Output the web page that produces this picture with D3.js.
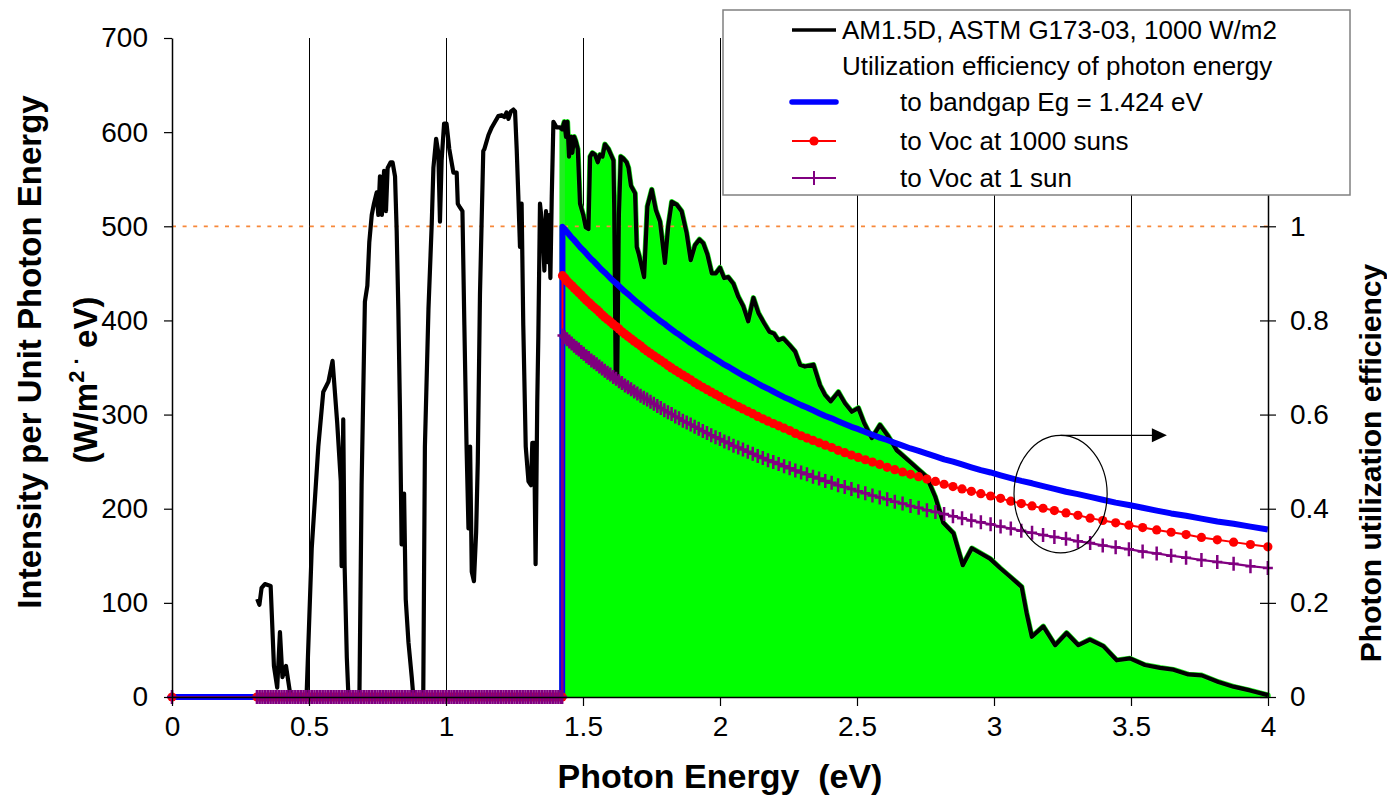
<!DOCTYPE html>
<html>
<head>
<meta charset="utf-8">
<script src="https://cdn.jsdelivr.net/npm/d3@7"></script>
<style>
  html, body { margin: 0; padding: 0; background: #ffffff; }
  svg { display: block; font-family: "Liberation Sans", Arial, Helvetica, sans-serif; }
</style>
</head>
<body>
<svg id="chart" width="1387" height="803"></svg>
<script>
// ---- AM1.5D direct spectrum, per unit photon energy ----
const spectrumEnergy = [
  0.311,0.319,0.327,0.339,0.360,0.372,0.384,0.394,0.403,0.416,0.433,0.491,0.510,0.534,0.552,0.571,0.586,0.603,0.616,0.619,
  0.625,0.630,0.638,0.644,0.684,0.692,0.704,0.713,0.720,0.729,0.737,0.747,0.753,0.759,0.766,0.774,0.781,0.787,0.798,0.805,
  0.814,0.820,0.826,0.832,0.838,0.847,0.853,0.863,0.875,0.881,0.917,0.923,0.936,0.948,0.954,0.964,0.972,0.978,0.984,0.993,
  1.002,1.012,1.027,1.039,1.043,1.051,1.060,1.067,1.075,1.082,1.088,1.094,1.102,1.110,1.116,1.124,1.136,1.140,1.155,1.167,
  1.179,1.191,1.203,1.213,1.221,1.228,1.237,1.246,1.252,1.258,1.264,1.270,1.276,1.282,1.291,1.301,1.310,1.315,1.322,1.327,
  1.333,1.337,1.343,1.352,1.359,1.365,1.371,1.376,1.381,1.386,1.392,1.404,1.416,1.424,1.432,1.438,1.443,1.449,1.456,1.461,
  1.468,1.473,1.481,1.489,1.495,1.501,1.510,1.520,1.526,1.534,1.544,1.554,1.562,1.571,1.580,1.593,1.602,1.611,1.614,1.619,
  1.625,1.631,1.638,1.647,1.659,1.666,1.675,1.690,1.696,1.704,1.716,1.723,1.735,1.751,1.766,1.781,1.799,1.811,1.824,1.842,
  1.860,1.878,1.893,1.909,1.925,1.939,1.954,1.970,1.985,2.000,2.015,2.030,2.049,2.067,2.085,2.103,2.122,2.140,2.161,2.180,
  2.197,2.213,2.231,2.253,2.274,2.292,2.310,2.341,2.365,2.383,2.404,2.432,2.456,2.481,2.505,2.526,2.554,2.584,2.614,2.645,
  2.657,2.700,2.754,2.785,2.815,2.852,2.886,2.919,2.949,2.985,3.022,3.058,3.101,3.119,3.138,3.180,3.223,3.265,3.308,3.350,
  3.399,3.448,3.496,3.551,3.606,3.655,3.709,3.758,3.819,3.874,3.934,4.000
];
const spectrumIntensity = [
  104,98,116,120,118,33,10,69,21,33,0,0,158,266,324,335,357,291,229,139,
  295,139,42,0,0,225,420,437,483,512,524,536,512,553,512,559,516,562,568,568,
  553,495,412,304,162,216,104,58,21,0,0,266,412,503,562,593,578,505,570,609,
  609,582,557,557,524,520,516,395,266,179,266,133,123,175,250,428,580,582,597,605,
  611,617,618,616,621,614,622,624,622,582,532,478,524,395,266,229,225,270,270,141,
  312,383,524,499,453,516,462,512,445,532,611,605,605,603,611,595,611,574,595,578,
  595,591,582,524,518,512,499,497,574,578,576,568,576,574,587,582,576,570,520,345,
  341,512,574,572,568,562,543,535,478,470,455,446,521,539,517,505,461,500,526,523,
  516,493,464,480,486,482,470,450,450,456,445,446,439,425,415,399,424,408,397,388,
  386,379,381,374,367,353,351,353,331,321,314,324,312,303,307,291,275,289,277,262,
  259,248,234,213,185,174,140,158,153,147,137,128,117,89,64,75,55,68,55,61,
  54,39,41,34,31,29,24,23,16,11,7,2
];

// ---- Bandgap of the absorber (eV) ----
const bandgapEnergy = 1.424;

// ---- Photon energies below the gap (utilization efficiency is zero there) ----
const belowGapEnergy = [
  0,0.31,0.32,0.33,0.34,0.35,0.36,0.37,0.38,0.39,0.4,0.41,0.42,0.43,0.44,0.45,0.46,0.47,0.48,0.49,0.5,
  0.51,0.52,0.53,0.54,0.55,0.56,0.57,0.58,0.59,0.6,0.61,0.62,0.63,0.64,0.65,0.66,0.67,0.68,0.69,0.7,
  0.71,0.72,0.73,0.74,0.75,0.76,0.77,0.78,0.79,0.8,0.81,0.82,0.83,0.84,0.85,0.86,0.87,0.88,0.89,0.9,
  0.91,0.92,0.93,0.94,0.95,0.96,0.97,0.98,0.99,1,1.01,1.02,1.03,1.04,1.05,1.06,1.07,1.08,1.09,1.1,
  1.11,1.12,1.13,1.14,1.15,1.16,1.17,1.18,1.19,1.2,1.21,1.22,1.23,1.24,1.25,1.26,1.27,1.28,1.29,1.3,
  1.31,1.32,1.33,1.34,1.35,1.36,1.37,1.38,1.39,1.4,1.41,1.42,1.424
];

// ---- Sample wavelengths above the gap (nm) and the utilization efficiencies there ----
const sampleWavelengthNm = [
  310,315,320,325,330,335,340,345,350,355,360,365,370,375,380,385,390,395,400,405,
  410,415,420,425,430,435,440,445,450,455,460,465,470,475,480,485,490,495,500,505,
  510,515,520,525,530,535,540,545,550,555,560,565,570,575,580,585,590,595,600,605,
  610,615,620,625,630,635,640,645,650,655,660,665,670,675,680,685,690,695,700,705,
  710,715,720,725,730,735,740,745,750,755,760,765,770,775,780,785,790,795,800,805,
  810,815,820,825,830,835,840,845,850,855,860,865,870
];
const effToBandgap = [
  0.356,0.362,0.368,0.373,0.379,0.385,0.390,0.396,0.402,0.408,0.413,0.419,0.425,0.431,0.436,0.442,0.448,0.454,0.459,0.465,
  0.471,0.477,0.482,0.488,0.494,0.500,0.505,0.511,0.517,0.523,0.528,0.534,0.540,0.546,0.551,0.557,0.563,0.569,0.574,0.580,
  0.586,0.592,0.597,0.603,0.609,0.615,0.620,0.626,0.632,0.637,0.643,0.649,0.655,0.660,0.666,0.672,0.678,0.683,0.689,0.695,
  0.701,0.706,0.712,0.718,0.724,0.729,0.735,0.741,0.747,0.752,0.758,0.764,0.770,0.775,0.781,0.787,0.793,0.798,0.804,0.810,
  0.815,0.821,0.827,0.833,0.838,0.844,0.850,0.856,0.861,0.867,0.873,0.879,0.884,0.890,0.896,0.902,0.907,0.913,0.919,0.925,
  0.930,0.936,0.942,0.948,0.953,0.959,0.965,0.971,0.976,0.982,0.988,0.994,0.999
];
const effToVoc1000 = [
  0.319,0.324,0.329,0.334,0.339,0.345,0.350,0.355,0.360,0.365,0.370,0.375,0.380,0.386,0.391,0.396,0.401,0.406,0.411,0.416,
  0.422,0.427,0.432,0.437,0.442,0.447,0.452,0.458,0.463,0.468,0.473,0.478,0.483,0.488,0.494,0.499,0.504,0.509,0.514,0.519,
  0.524,0.530,0.535,0.540,0.545,0.550,0.555,0.560,0.566,0.571,0.576,0.581,0.586,0.591,0.596,0.602,0.607,0.612,0.617,0.622,
  0.627,0.632,0.638,0.643,0.648,0.653,0.658,0.663,0.668,0.674,0.679,0.684,0.689,0.694,0.699,0.704,0.710,0.715,0.720,0.725,
  0.730,0.735,0.740,0.746,0.751,0.756,0.761,0.766,0.771,0.776,0.782,0.787,0.792,0.797,0.802,0.807,0.812,0.818,0.823,0.828,
  0.833,0.838,0.843,0.848,0.854,0.859,0.864,0.869,0.874,0.879,0.884,0.890,0.895
];
const effToVoc1 = [
  0.274,0.278,0.283,0.287,0.291,0.296,0.300,0.305,0.309,0.314,0.318,0.322,0.327,0.331,0.336,0.340,0.344,0.349,0.353,0.358,
  0.362,0.367,0.371,0.375,0.380,0.384,0.389,0.393,0.397,0.402,0.406,0.411,0.415,0.420,0.424,0.428,0.433,0.437,0.442,0.446,
  0.450,0.455,0.459,0.464,0.468,0.473,0.477,0.481,0.486,0.490,0.495,0.499,0.503,0.508,0.512,0.517,0.521,0.526,0.530,0.534,
  0.539,0.543,0.548,0.552,0.556,0.561,0.565,0.570,0.574,0.579,0.583,0.587,0.592,0.596,0.601,0.605,0.609,0.614,0.618,0.623,
  0.627,0.632,0.636,0.640,0.645,0.649,0.654,0.658,0.662,0.667,0.671,0.676,0.680,0.685,0.689,0.693,0.698,0.702,0.707,0.711,
  0.715,0.720,0.724,0.729,0.733,0.738,0.742,0.746,0.751,0.755,0.760,0.764,0.768
];

// ---- Axis ticks ----
const xTicks = [0, 0.5, 1, 1.5, 2, 2.5, 3, 3.5, 4];
const leftTicks = [0, 100, 200, 300, 400, 500, 600, 700];
const rightTicks = [0, 0.2, 0.4, 0.6, 0.8, 1];
const referenceLevel = 1; // full utilization (dashed line)

// ---- Legend text ----
const legendLabels = [
  "AM1.5D, ASTM G173-03, 1000 W/m2",
  "Utilization efficiency of photon energy",
  "to bandgap Eg = 1.424 eV",
  "to Voc at 1000 suns",
  "to Voc at 1 sun"
];

// ---- Layout ----
const plot = { left: 172, right: 1268, top: 38, bottom: 697 };
const hcToEv = 1239.84; // nm·eV

const svg = d3.select("#chart");

const x = d3.scaleLinear().domain([0, 4]).range([plot.left, plot.right]);
const yL = d3.scaleLinear().domain([0, 700]).range([plot.bottom, plot.top]);
const yR = d3.scaleLinear().domain([0, 1.4]).range([plot.bottom, plot.top]);

// spectrum records
const spectrum = spectrumEnergy.map((e, i) => ({ e, v: spectrumIntensity[i] }));
const aboveGapSpectrum = [{ e: bandgapEnergy, v: 0 }].concat(spectrum.filter(d => d.e >= bandgapEnergy));
aboveGapSpectrum.push({ e: spectrum[spectrum.length - 1].e, v: 0 });

// efficiency records (sorted by photon energy)
const eff = belowGapEnergy.map(e => ({ e, b: 0, r: 0, p: 0 }))
  .concat(sampleWavelengthNm.map((nm, i) => ({
    e: hcToEv / nm, b: effToBandgap[i], r: effToVoc1000[i], p: effToVoc1[i]
  })).sort((a, b) => a.e - b.e));

// ---- vertical gridlines ----
svg.append("g")
  .selectAll("line")
  .data(xTicks.filter(t => t > 0 && t < 4))
  .join("line")
  .attr("x1", d => Math.round(x(d)) + 0.5).attr("x2", d => Math.round(x(d)) + 0.5)
  .attr("y1", plot.top).attr("y2", plot.bottom)
  .attr("stroke", "#000").attr("stroke-width", 1)
  .attr("shape-rendering", "crispEdges");

// ---- green area: spectrum usable above the gap ----
svg.append("path")
  .datum(aboveGapSpectrum)
  .attr("d", d3.line().x(d => x(d.e)).y(d => yL(d.v)))
  .attr("fill", "#00ff00")
  .attr("stroke", "#22ee22")
  .attr("stroke-width", 5.5)
  .attr("stroke-linejoin", "round");

// ---- dashed line at full utilization ----
svg.append("line")
  .attr("x1", plot.left).attr("x2", plot.right)
  .attr("y1", yR(referenceLevel)).attr("y2", yR(referenceLevel))
  .attr("stroke", "#f7883a").attr("stroke-width", 1.8)
  .attr("stroke-dasharray", "4,6.6");

// ---- spectrum line ----
svg.append("path")
  .datum(spectrum)
  .attr("d", d3.line().x(d => x(d.e)).y(d => yL(d.v)))
  .attr("fill", "none")
  .attr("stroke", "#000")
  .attr("stroke-width", 4.2)
  .attr("stroke-linejoin", "round");

// ---- efficiency curves ----
const effLine = key => d3.line().x(d => x(d.e)).y(d => yR(d[key]));

svg.append("path").datum(eff).attr("d", effLine("b"))
  .attr("fill", "none").attr("stroke", "#0000ff").attr("stroke-width", 6)
  .attr("stroke-linejoin", "round");

svg.append("path").datum(eff).attr("d", effLine("r"))
  .attr("fill", "none").attr("stroke", "#ff0000").attr("stroke-width", 2);
svg.append("g").selectAll("circle").data(eff).join("circle")
  .attr("cx", d => x(d.e)).attr("cy", d => yR(d.r)).attr("r", 4.6)
  .attr("fill", "#ff0000");

svg.append("path").datum(eff).attr("d", effLine("p"))
  .attr("fill", "none").attr("stroke", "#800080").attr("stroke-width", 2.2);
const plusPath = (cx, cy) => `M${cx - 5},${cy}H${cx + 5}M${cx},${cy - 7}V${cy + 7}`;
svg.append("path")
  .attr("d", eff.map(d => plusPath(x(d.e), yR(d.p))).join(""))
  .attr("fill", "none").attr("stroke", "#800080").attr("stroke-width", 2.5);

// ---- axes ----
const fontTicks = 28;

const bottomAxis = svg.append("g")
  .attr("transform", `translate(0,${plot.bottom})`)
  .call(d3.axisBottom(x).tickValues(xTicks).tickFormat(d => String(d))
    .tickSizeInner(9).tickSizeOuter(0).tickPadding(10));

const leftAxis = svg.append("g")
  .attr("transform", `translate(${plot.left},0)`)
  .call(d3.axisLeft(yL).tickValues(leftTicks).tickFormat(d => String(d))
    .tickSizeInner(8).tickSizeOuter(0).tickPadding(16));

const rightAxis = svg.append("g")
  .attr("transform", `translate(${plot.right},0)`)
  .call(d3.axisRight(yR).tickValues(rightTicks).tickFormat(d => String(d))
    .tickSizeInner(8).tickSizeOuter(0).tickPadding(14));
rightAxis.selectAll(".tick line").attr("x1", -8).attr("x2", 8);

[bottomAxis, leftAxis, rightAxis].forEach(g => {
  g.select(".domain").attr("stroke", "#000").attr("stroke-width", 1.5);
  g.selectAll(".tick line").attr("stroke", "#000").attr("stroke-width", 1.2);
  g.selectAll(".tick text")
    .attr("fill", "#000")
    .style("font-family", '"Liberation Sans", Arial, sans-serif')
    .style("font-size", fontTicks + "px");
});

// ---- axis titles ----
svg.append("text")
  .attr("x", (plot.left + plot.right) / 2).attr("y", 788)
  .attr("text-anchor", "middle")
  .style("font-size", "34px").style("font-weight", "bold").style("white-space", "pre")
  .text("Photon Energy  (eV)");

svg.append("text")
  .attr("transform", "translate(41,352) rotate(-90)")
  .attr("text-anchor", "middle")
  .style("font-size", "33px").style("font-weight", "bold")
  .text("Intensity per Unit Photon Energy");

const unitTitle = svg.append("text")
  .attr("transform", "translate(97,380) rotate(-90)")
  .attr("text-anchor", "middle")
  .style("font-size", "33px").style("font-weight", "bold");
unitTitle.append("tspan").text("(W/m");
unitTitle.append("tspan").attr("dy", -13).style("font-size", "22px").text("2");
unitTitle.append("tspan").style("font-size", "22px").text(" ·");
unitTitle.append("tspan").attr("dy", 13).text(" eV)");

svg.append("text")
  .attr("transform", "translate(1381,463) rotate(-90)")
  .attr("text-anchor", "middle")
  .style("font-size", "30px").style("font-weight", "bold")
  .text("Photon utilization efficiency");

// ---- annotation: ellipse around the curves with arrow to the right axis ----
const annE = 3.243, annEff = 0.431;
const annRx = x(annE + 0.17) - x(annE);
const annRy = yR(annEff) - yR(annEff + 0.125);
svg.append("ellipse")
  .attr("cx", x(annE)).attr("cy", yR(annEff))
  .attr("rx", annRx).attr("ry", annRy)
  .attr("fill", "none").attr("stroke", "#000").attr("stroke-width", 1.2);
const arrowY = yR(annEff) - annRy;
const arrowTip = x(3.631);
svg.append("line")
  .attr("x1", x(annE)).attr("x2", arrowTip - 14)
  .attr("y1", arrowY).attr("y2", arrowY)
  .attr("stroke", "#000").attr("stroke-width", 1.2);
svg.append("path")
  .attr("d", `M${arrowTip},${arrowY}L${arrowTip - 15},${arrowY - 7}L${arrowTip - 15},${arrowY + 7}Z`)
  .attr("fill", "#000");

// ---- legend ----
const legend = svg.append("g");
legend.append("rect")
  .attr("x", 723).attr("y", 10).attr("width", 627).attr("height", 185)
  .attr("fill", "#fff").attr("stroke", "#808080").attr("stroke-width", 1.5);

const legendFont = "26px";
const rowsY = [30, 66, 102, 141, 178];
const sampleX1 = 792, sampleX2 = 836, sampleMid = 814;

legend.append("line").attr("x1", sampleX1).attr("x2", sampleX2)
  .attr("y1", rowsY[0]).attr("y2", rowsY[0]).attr("stroke", "#000").attr("stroke-width", 3.5);
legend.append("line").attr("x1", sampleX1).attr("x2", sampleX2)
  .attr("y1", rowsY[2]).attr("y2", rowsY[2]).attr("stroke", "#0000ff").attr("stroke-width", 5.5)
  .attr("stroke-linecap", "round");
legend.append("line").attr("x1", sampleX1).attr("x2", sampleX2)
  .attr("y1", rowsY[3]).attr("y2", rowsY[3]).attr("stroke", "#ff0000").attr("stroke-width", 2);
legend.append("circle").attr("cx", sampleMid).attr("cy", rowsY[3]).attr("r", 4.6).attr("fill", "#ff0000");
legend.append("line").attr("x1", sampleX1).attr("x2", sampleX2)
  .attr("y1", rowsY[4]).attr("y2", rowsY[4]).attr("stroke", "#800080").attr("stroke-width", 2);
legend.append("path").attr("d", plusPath(sampleMid, rowsY[4]))
  .attr("stroke", "#800080").attr("stroke-width", 2).attr("fill", "none");

const textX = [842, 842, 900, 900, 900];
legend.selectAll("text.lg").data(legendLabels).join("text")
  .attr("class", "lg")
  .attr("x", (d, i) => textX[i])
  .attr("y", (d, i) => rowsY[i] + 9.3)
  .style("font-size", legendFont)
  .attr("fill", "#000")
  .text(d => d);
</script>
</body>
</html>
